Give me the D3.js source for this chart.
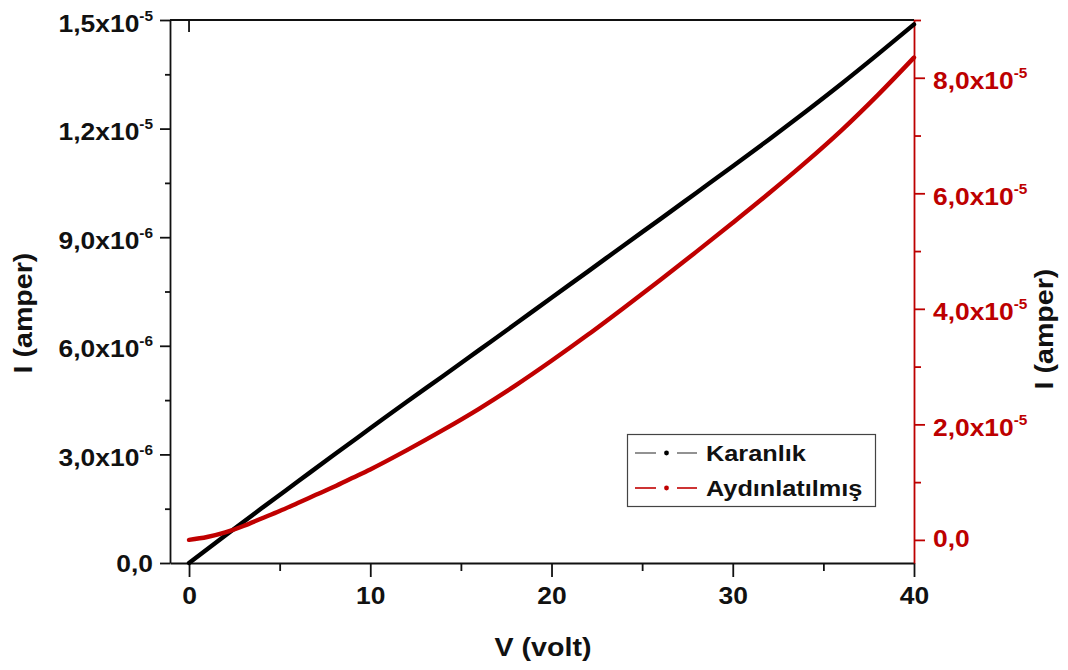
<!DOCTYPE html>
<html>
<head>
<meta charset="utf-8">
<script src="https://cdn.jsdelivr.net/npm/d3@7"></script>
<style>
  body { margin: 0; background: #fff; }
  svg { display: block; }
  text { font-family: "Liberation Sans", Arial, sans-serif; font-weight: bold; }
</style>
</head>
<body>
<svg id="chart" width="1068" height="670"></svg>
<script>
// I–V measurements: dark (left axis) and illuminated (right axis)
const darkVolt = [0, 2, 4, 6, 8, 10, 12, 14, 16, 18, 20, 22, 24, 26, 28, 30, 32, 34, 36, 38, 40];
const darkAmp = [0, 0.76e-6, 1.51e-6, 2.25e-6, 2.99e-6, 3.72e-6, 4.45e-6, 5.16e-6, 5.88e-6, 6.60e-6,
  7.33e-6, 8.05e-6, 8.78e-6, 9.50e-6, 10.23e-6, 10.96e-6, 11.70e-6, 12.46e-6, 13.24e-6, 14.05e-6, 14.88e-6];

const lightVolt = [0, 1, 2, 3, 4, 5, 6, 7, 8, 9, 10, 12, 14, 16, 18, 20, 22, 24, 26, 28, 30, 32, 34, 36, 38, 40];
const lightAmp = [0, 0.05e-5, 0.13e-5, 0.24e-5, 0.37e-5, 0.50e-5, 0.64e-5, 0.78e-5, 0.92e-5, 1.07e-5,
  1.22e-5, 1.55e-5, 1.90e-5, 2.27e-5, 2.67e-5, 3.10e-5, 3.55e-5, 4.02e-5, 4.50e-5, 4.99e-5,
  5.49e-5, 6.00e-5, 6.53e-5, 7.09e-5, 7.70e-5, 8.35e-5];

const seriesNames = ["Karanlık", "Aydınlatılmış"];

const xTicks = [0, 10, 20, 30, 40];
const xMinorTicks = [5, 15, 25, 35];

const leftTicks = [0, 3e-6, 6e-6, 9e-6, 1.2e-5, 1.5e-5];
const leftMantissa = ["0,0", "3,0x10", "6,0x10", "9,0x10", "1,2x10", "1,5x10"];
const leftExponent = ["", "-6", "-6", "-6", "-5", "-5"];
const leftMinorTicks = [1.5e-6, 4.5e-6, 7.5e-6, 1.05e-5, 1.35e-5];

const rightTicks = [0, 2e-5, 4e-5, 6e-5, 8e-5];
const rightMantissa = ["0,0", "2,0x10", "4,0x10", "6,0x10", "8,0x10"];
const rightExponent = ["", "-5", "-5", "-5", "-5"];
const rightMinorTicks = [1e-5, 3e-5, 5e-5, 7e-5, 9e-5];

const RED = "#bd0000";
const SX = 1.1; // horizontal stretch of the lettering

const svg = d3.select("#chart");

const x = d3.scaleLinear().domain([-1.05, 40]).range([170, 914]);
const yLeft = d3.scaleLinear().domain([0, 1.5e-5]).range([563, 20]);
const yRight = d3.scaleLinear().domain([-4e-6, 9e-5]).range([563, 20]);

// frame top edge with its single inner tick at V = 0
svg.append("line").attr("x1", 170).attr("x2", 914).attr("y1", 20).attr("y2", 20)
  .attr("stroke", "#111").attr("stroke-width", 1.8);
svg.append("line").attr("x1", x(0)).attr("x2", x(0)).attr("y1", 20).attr("y2", 32)
  .attr("stroke", "#111").attr("stroke-width", 1.8);

function styleAxis(g, color) {
  g.attr("color", color);
  g.selectAll("path, line").attr("stroke-width", 1.8);
}

// bottom axis
const gx = svg.append("g").attr("transform", "translate(0,563)")
  .call(d3.axisBottom(x).tickValues(xTicks).tickSize(14).tickSizeOuter(0).tickFormat(d3.format("d")));
styleAxis(gx, "#111");
gx.selectAll("text")
  .attr("y", 0).attr("dy", null)
  .attr("font-size", 24).attr("fill", "#111")
  .attr("transform", `translate(0,41) scale(${SX},1)`);
const gxMinor = svg.append("g").attr("transform", "translate(0,563)")
  .call(d3.axisBottom(x).tickValues(xMinorTicks).tickSize(8).tickFormat(""));
gxMinor.select(".domain").remove();
styleAxis(gxMinor, "#111");

// left axis
const gl = svg.append("g").attr("transform", "translate(170,0)")
  .call(d3.axisLeft(yLeft).tickValues(leftTicks).tickSize(10).tickSizeOuter(0).tickFormat(""));
styleAxis(gl, "#111");
const glMinor = svg.append("g").attr("transform", "translate(170,0)")
  .call(d3.axisLeft(yLeft).tickValues(leftMinorTicks).tickSize(5).tickFormat(""));
glMinor.select(".domain").remove();
styleAxis(glMinor, "#111");

function sciLabel(sel, mantissa, exponent) {
  sel.append("tspan").text(mantissa);
  if (exponent) {
    sel.append("tspan").attr("dy", -11).attr("font-size", 14).text(exponent);
  }
}

gl.selectAll(".tick").each(function (d, i) {
  const t = d3.select(this).select("text")
    .attr("x", 0).attr("dy", null).attr("y", 0)
    .attr("text-anchor", "end").attr("font-size", 24).attr("fill", "#111")
    .attr("transform", `translate(-17,${leftExponent[i] ? 11 : 8}) scale(${SX},1)`);
  sciLabel(t, leftMantissa[i], leftExponent[i]);
});

// right axis
const gr = svg.append("g").attr("transform", "translate(914,0)")
  .call(d3.axisRight(yRight).tickValues(rightTicks).tickSize(11).tickSizeOuter(0).tickFormat(""));
styleAxis(gr, RED);
const grMinor = svg.append("g").attr("transform", "translate(914,0)")
  .call(d3.axisRight(yRight).tickValues(rightMinorTicks).tickSize(7).tickFormat(""));
grMinor.select(".domain").remove();
styleAxis(grMinor, RED);

gr.selectAll(".tick").each(function (d, i) {
  const t = d3.select(this).select("text")
    .attr("x", 0).attr("dy", null).attr("y", 0)
    .attr("text-anchor", "start").attr("font-size", 24).attr("fill", RED)
    .attr("transform", `translate(19,${rightExponent[i] ? 11 : 7}) scale(${SX},1)`);
  sciLabel(t, rightMantissa[i], rightExponent[i]);
});

// axis titles
svg.append("text").attr("text-anchor", "middle").attr("font-size", 26).attr("fill", "#111")
  .attr("transform", `translate(543,656) scale(${SX},1)`).text("V (volt)");
svg.append("text").attr("text-anchor", "middle").attr("font-size", 26).attr("fill", "#111")
  .attr("transform", `translate(32,313) rotate(-90) scale(${SX},1)`).text("I (amper)");
svg.append("text").attr("text-anchor", "middle").attr("font-size", 26).attr("fill", "#111")
  .attr("transform", `translate(1053,329) rotate(-90) scale(${SX},1)`).text("I (amper)");

// curves
const darkLine = d3.line().x((d, i) => x(darkVolt[i])).y(d => yLeft(d)).curve(d3.curveMonotoneX);
const lightLine = d3.line().x((d, i) => x(lightVolt[i])).y(d => yRight(d)).curve(d3.curveMonotoneX);

svg.append("path").datum(darkAmp).attr("d", darkLine)
  .attr("fill", "none").attr("stroke", "#000").attr("stroke-width", 4.4).attr("stroke-linecap", "round");
svg.append("path").datum(lightAmp).attr("d", lightLine)
  .attr("fill", "none").attr("stroke", "#c00000").attr("stroke-width", 4.4).attr("stroke-linecap", "round");

// legend
const legend = svg.append("g");
legend.append("rect").attr("x", 627.5).attr("y", 434.5).attr("width", 248).attr("height", 72)
  .attr("fill", "#fff").attr("stroke", "#444").attr("stroke-width", 1.2);
const legendColors = [["#777", "#000"], ["#c00000", "#c00000"]];
const legendRows = [453, 488];
seriesNames.forEach((name, i) => {
  const cy = legendRows[i];
  const [dashColor, dotColor] = legendColors[i];
  legend.append("line").attr("x1", 635).attr("x2", 656).attr("y1", cy).attr("y2", cy)
    .attr("stroke", dashColor).attr("stroke-width", 1.6);
  legend.append("line").attr("x1", 677).attr("x2", 697).attr("y1", cy).attr("y2", cy)
    .attr("stroke", dashColor).attr("stroke-width", 1.6);
  legend.append("circle").attr("cx", 666.5).attr("cy", cy).attr("r", 2.4).attr("fill", dotColor);
  legend.append("text").attr("font-size", 22).attr("fill", "#111")
    .attr("transform", `translate(706,${cy + 8}) scale(1.15,1)`).text(name);
});
</script>
</body>
</html>
